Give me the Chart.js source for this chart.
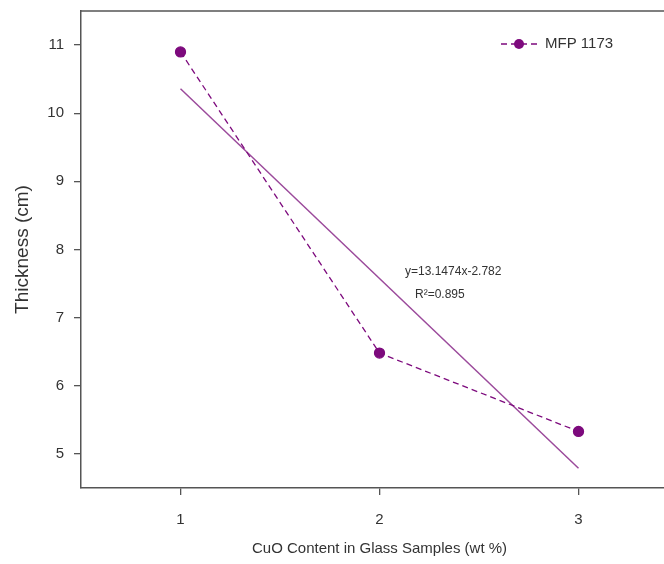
<!DOCTYPE html>
<html lang="en">
<head>
  <meta charset="UTF-8" />
  <title>Thickness vs CuO content</title>
  <script src="https://cdn.jsdelivr.net/npm/chart.js"></script>
  <style>
    html, body {
      margin: 0;
      padding: 0;
      background: #fff;
      overflow: hidden;
    }
    #chart {
      display: block;
    }
  </style>
</head>
<body>
  <canvas id="chart" width="690" height="564"></canvas>

  <script>
    // Data
    const cuoContent = [1, 2, 3];
    const thickness = [10.9, 6.48, 5.33];
    const fitX = [1, 3];
    const fitY = [10.36, 4.79];
    const xTicks = [1, 2, 3];
    const yTicks = [5, 6, 7, 8, 9, 10, 11];
    const seriesName = 'MFP 1173';
    const fitText = ['y=13.1474x-2.782', 'R²=0.895'];

    const purple = '#7d0a7d';
    const fitColor = '#9b4a9b';
    const axisColor = '#555';
    const textColor = '#333';
    const font = "'Liberation Sans', Arial, sans-serif";

    // top/right border of the frame + legend + fit equation
    const extras = {
      id: 'extras',
      afterDraw(chart) {
        const { ctx, chartArea: a } = chart;
        ctx.save();
        ctx.strokeStyle = axisColor;
        ctx.lineWidth = 1.5;
        ctx.beginPath();
        ctx.moveTo(a.left, a.top);
        ctx.lineTo(a.right, a.top);
        ctx.lineTo(a.right, a.bottom);
        ctx.stroke();

        // legend
        const ly = 44;
        ctx.strokeStyle = purple;
        ctx.lineWidth = 1.3;
        ctx.setLineDash([6, 4]);
        ctx.beginPath();
        ctx.moveTo(501, ly);
        ctx.lineTo(537, ly);
        ctx.stroke();
        ctx.setLineDash([]);
        ctx.fillStyle = purple;
        ctx.beginPath();
        ctx.arc(519, ly, 5, 0, Math.PI * 2);
        ctx.fill();
        ctx.fillStyle = textColor;
        ctx.font = '15px ' + font;
        ctx.textBaseline = 'middle';
        ctx.fillText(seriesName, 545, ly);

        // fit equation
        ctx.font = '12px ' + font;
        ctx.fillText(fitText[0], 405, 272);
        ctx.fillText(fitText[1], 415, 295);
        ctx.restore();
      }
    };

    new Chart(document.getElementById('chart'), {
      type: 'scatter',
      data: {
        datasets: [
          {
            label: seriesName,
            data: cuoContent.map((x, i) => ({ x, y: thickness[i] })),
            showLine: true,
            borderColor: purple,
            backgroundColor: purple,
            borderWidth: 1.3,
            borderDash: [6, 4],
            pointRadius: 5,
            pointHoverRadius: 5,
            order: 1
          },
          {
            label: 'fit',
            data: fitX.map((x, i) => ({ x, y: fitY[i] })),
            showLine: true,
            borderColor: fitColor,
            borderWidth: 1.5,
            pointRadius: 0,
            order: 2
          }
        ]
      },
      options: {
        responsive: false,
        animation: false,
        layout: { padding: { top: 11, right: 12, bottom: 6, left: 0 } },
        plugins: {
          legend: { display: false },
          tooltip: { enabled: false }
        },
        scales: {
          x: {
            type: 'linear',
            min: 0.5,
            max: 3.5,
            afterBuildTicks: s => { s.ticks = xTicks.map(v => ({ value: v })); },
            afterFit: s => { s.height = 70; s.paddingLeft = 0; s.paddingRight = 0; },
            grid: { drawOnChartArea: false, drawTicks: true, tickLength: 7, color: axisColor, lineWidth: 1.3 },
            border: { color: axisColor, width: 1.5 },
            ticks: { color: textColor, font: { family: font, size: 15 }, padding: 16 },
            title: {
              display: true,
              text: 'CuO Content in Glass Samples (wt %)',
              color: textColor,
              font: { family: font, size: 15 },
              padding: { top: 0, bottom: 0 }
            }
          },
          y: {
            min: 4.5,
            max: 11.5,
            afterBuildTicks: s => { s.ticks = yTicks.map(v => ({ value: v })); },
            afterFit: s => { s.width = 81; s.paddingTop = 0; s.paddingBottom = 0; },
            grid: { drawOnChartArea: false, drawTicks: true, tickLength: 7, color: axisColor, lineWidth: 1.3 },
            border: { color: axisColor, width: 1.5 },
            ticks: { color: textColor, font: { family: font, size: 15 }, padding: 10 },
            title: {
              display: true,
              text: 'Thickness (cm)',
              color: textColor,
              font: { family: font, size: 19 },
              padding: { top: 11, bottom: 0 }
            }
          }
        }
      },
      plugins: [extras]
    });
  </script>
</body>
</html>
